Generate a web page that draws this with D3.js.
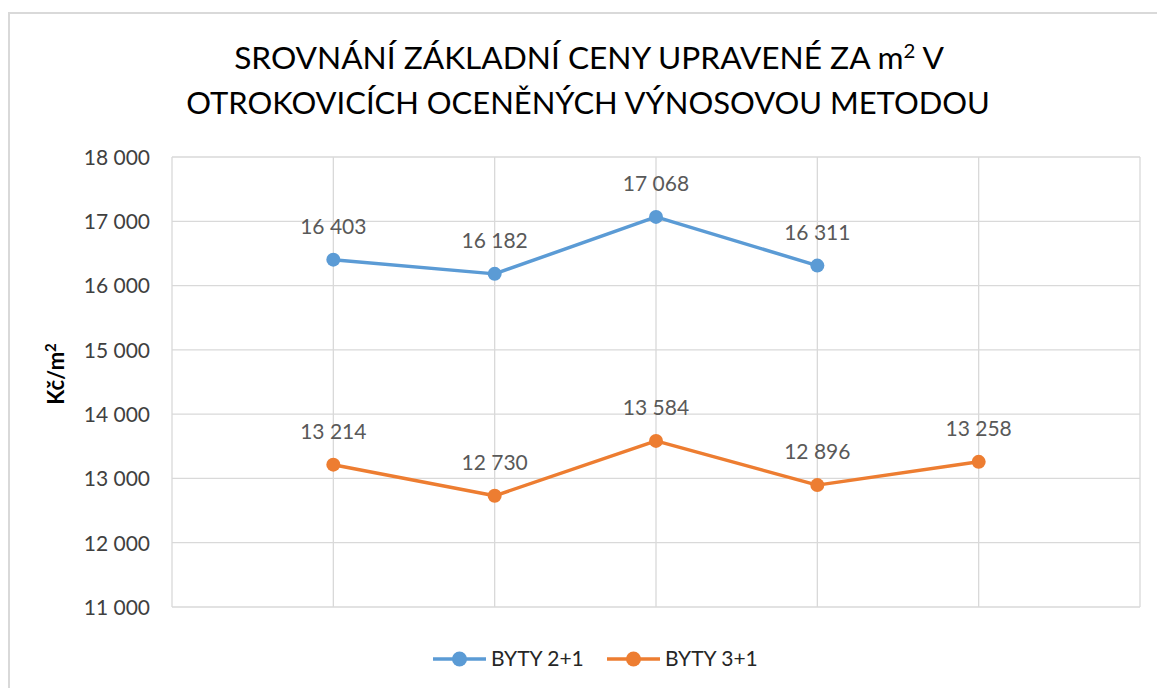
<!DOCTYPE html>
<html>
<head>
<meta charset="utf-8">
<script src="https://cdn.jsdelivr.net/npm/d3@7"></script>
<style>
  body { margin: 0; background: #fff; }
  svg text { font-family: Lato, "Open Sans", sans-serif; }
</style>
</head>
<body>
<svg id="chart" width="1157" height="688"></svg>
<script>
// slots on the category axis (first and last are empty in the source chart)
const slots = [0, 1, 2, 3, 4, 5, 6];
const seriesNames = ["BYTY 2+1", "BYTY 3+1"];
const byty21 = [null, 16403, 16182, 17068, 16311, null, null];
const byty31 = [null, 13214, 12730, 13584, 12896, 13258, null];
const yTicks = [11000, 12000, 13000, 14000, 15000, 16000, 17000, 18000];
const colors = ["#5B9BD5", "#ED7D31"];

const svg = d3.select("#chart");
const width = 1157, height = 688;
const plot = { left: 172, right: 1140, top: 157, bottom: 607 };

// czech style number format: "16 403"
const fmt = d3.formatLocale({ decimal: ",", thousands: " ", grouping: [3], currency: ["", " Kč"] }).format(",d");

// chart frame (only top and left edges are in view)
svg.append("rect")
  .attr("x", 9).attr("y", 13)
  .attr("width", width + 20).attr("height", height + 20)
  .attr("fill", "#fff")
  .attr("stroke", "#d9d9d9")
  .attr("stroke-width", 2);

const x = d3.scalePoint().domain(slots).range([plot.left, plot.right]);
const y = d3.scaleLinear().domain([11000, 18000]).range([plot.bottom, plot.top]);

// stretch/squeeze a text node so it spans the wanted width
function fitWidth(sel, w, cx) {
  const bb = sel.node().getBBox();
  const k = w / bb.width;
  sel.attr("transform", `translate(${cx},0) scale(${k},1) translate(${-cx},0)`);
}

// title
const t1 = svg.append("text")
  .attr("x", 589).attr("y", 69)
  .attr("text-anchor", "middle")
  .style("font-size", "31px")
  .attr("fill", "#000");
t1.append("tspan").text("SROVNÁNÍ ZÁKLADNÍ CENY UPRAVENÉ ZA m");
t1.append("tspan").attr("dy", -11).style("font-size", "20px").text("2");
t1.append("tspan").attr("dy", 11).text(" V");
fitWidth(t1, 710, 589);

const t2 = svg.append("text")
  .attr("x", 588).attr("y", 114)
  .attr("text-anchor", "middle")
  .style("font-size", "31px")
  .attr("fill", "#000")
  .text("OTROKOVICÍCH OCENĚNÝCH VÝNOSOVOU METODOU");
fitWidth(t2, 804, 588);

// horizontal gridlines
svg.append("g")
  .selectAll("line")
  .data(yTicks)
  .join("line")
  .attr("x1", plot.left).attr("x2", plot.right)
  .attr("y1", d => y(d)).attr("y2", d => y(d))
  .attr("stroke", "#d9d9d9")
  .attr("stroke-width", 1.3);

// vertical gridlines at every slot
svg.append("g")
  .selectAll("line")
  .data(slots)
  .join("line")
  .attr("x1", d => x(d)).attr("x2", d => x(d))
  .attr("y1", plot.top).attr("y2", plot.bottom)
  .attr("stroke", "#d9d9d9")
  .attr("stroke-width", 1.3);

// y axis labels
const yAxis = svg.append("g")
  .attr("transform", `translate(${plot.left - 22},0)`)
  .call(d3.axisLeft(y).tickValues(yTicks).tickSize(0).tickPadding(0).tickFormat(fmt));
yAxis.select(".domain").remove();
yAxis.selectAll("text")
  .style("font-family", "Lato, 'Open Sans', sans-serif")
  .style("font-size", "21px")
  .attr("fill", "#404040")
  .attr("dy", "0.35em");

// y axis title
const yt = svg.append("text")
  .attr("transform", "translate(64,374) rotate(-90)")
  .attr("text-anchor", "middle")
  .style("font-size", "22px")
  .style("font-weight", "bold")
  .attr("fill", "#000");
yt.append("tspan").text("Kč/m");
yt.append("tspan").attr("dy", -8).style("font-size", "15px").text("2");

// series
const series = [byty21, byty31].map((vals, i) => ({
  name: seriesNames[i],
  color: colors[i],
  points: slots.map((s, j) => ({ slot: s, value: vals[j] })).filter(p => p.value != null)
}));

const line = d3.line().x(d => x(d.slot)).y(d => y(d.value));

series.forEach(s => {
  const g = svg.append("g");
  g.append("path")
    .attr("d", line(s.points))
    .attr("fill", "none")
    .attr("stroke", s.color)
    .attr("stroke-width", 3.5)
    .attr("stroke-linejoin", "round");
  g.selectAll("circle")
    .data(s.points)
    .join("circle")
    .attr("cx", d => x(d.slot))
    .attr("cy", d => y(d.value))
    .attr("r", 7)
    .attr("fill", s.color);
  g.selectAll("text")
    .data(s.points)
    .join("text")
    .attr("x", d => x(d.slot))
    .attr("y", d => y(d.value) - 33)
    .attr("dy", "0.35em")
    .attr("text-anchor", "middle")
    .style("font-size", "21px")
    .attr("fill", "#595959")
    .text(d => fmt(d.value));
});

// legend
const legendX = [433, 607];
series.forEach((s, i) => {
  const g = svg.append("g").attr("transform", `translate(${legendX[i]},659)`);
  g.append("line")
    .attr("x1", 0).attr("x2", 53)
    .attr("stroke", s.color)
    .attr("stroke-width", 3.5);
  g.append("circle").attr("cx", 26.5).attr("r", 7.5).attr("fill", s.color);
  g.append("text")
    .attr("x", 58).attr("dy", "0.35em")
    .style("font-size", "21px")
    .attr("fill", "#262626")
    .text(s.name);
});
</script>
</body>
</html>
